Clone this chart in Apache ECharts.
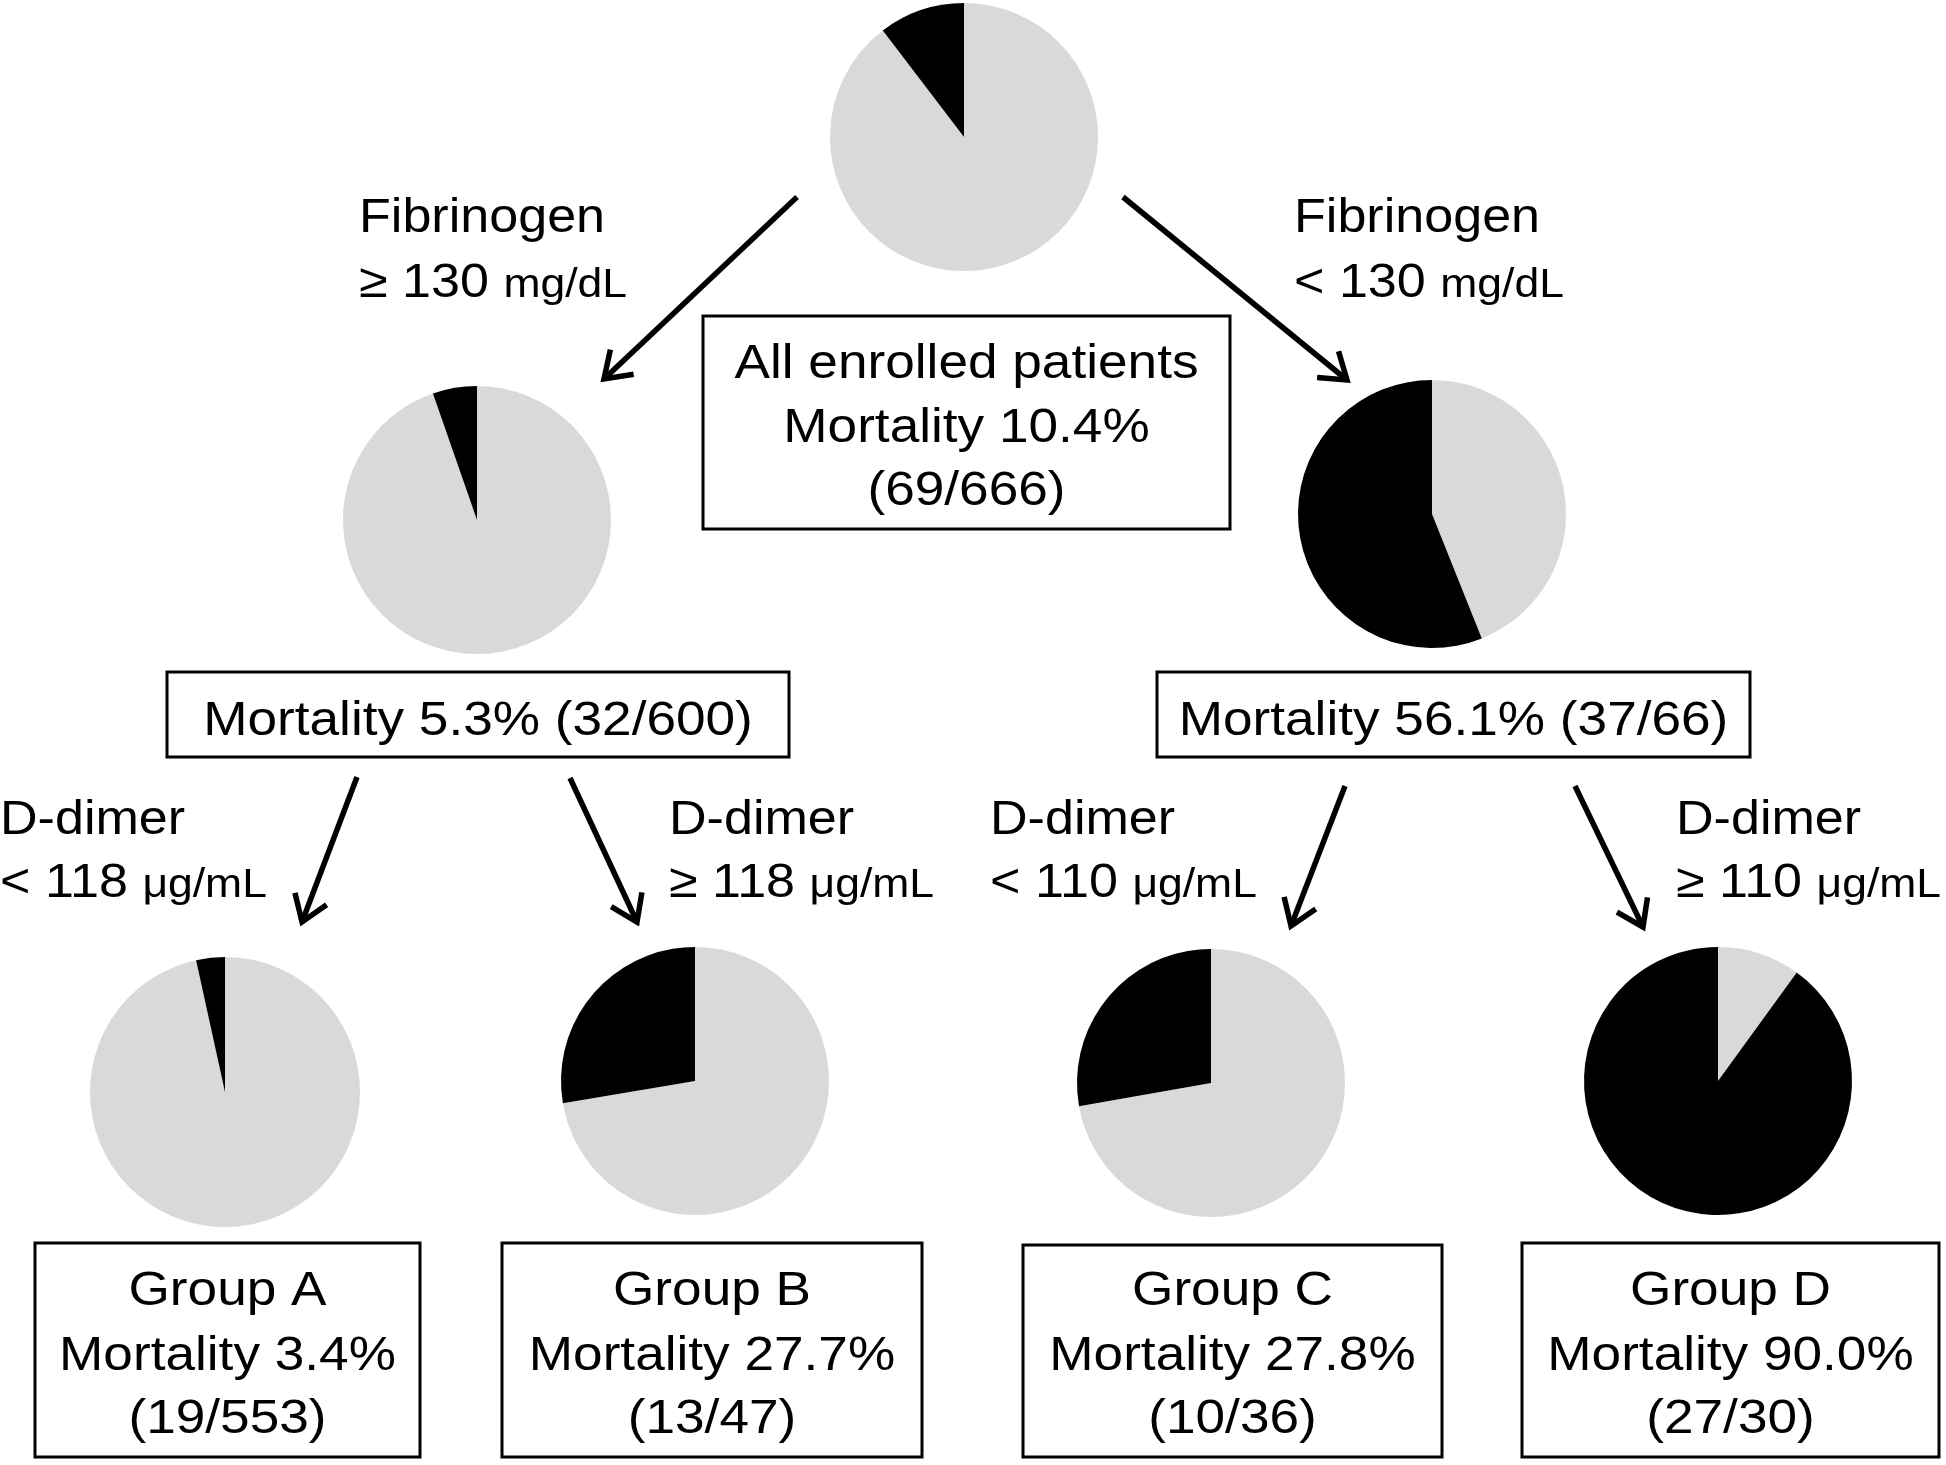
<!DOCTYPE html>
<html>
<head>
<meta charset="utf-8">
<script src="https://cdn.jsdelivr.net/npm/echarts@6/dist/echarts.min.js"></script>
<style>
html,body{margin:0;padding:0;background:#fff;}
#chart{width:1946px;height:1465px;}
</style>
</head>
<body>
<div id="chart"></div>
<script>
// ---- data ----
const groupNames = ['All enrolled patients', 'Fibrinogen ≥ 130', 'Fibrinogen < 130', 'Group A', 'Group B', 'Group C', 'Group D'];
const deaths = [69, 32, 37, 19, 13, 10, 27];
const totals = [666, 600, 66, 553, 47, 36, 30];
const mortality = ['10.4', '5.3', '56.1', '3.4', '27.7', '27.8', '90.0'];
const splitVars = ['Fibrinogen', 'Fibrinogen', 'D-dimer', 'D-dimer', 'D-dimer', 'D-dimer'];
const splitOps = ['≥', '<', '<', '≥', '<', '≥'];
const splitValues = ['130', '130', '118', '118', '110', '110'];
const splitUnits = ['mg/dL', 'mg/dL', 'μg/mL', 'μg/mL', 'μg/mL', 'μg/mL'];

// ---- layout ----
const pieCenters = [[964, 137], [477, 520], [1432, 514], [225, 1092], [695, 1081], [1211, 1083], [1718, 1081]];
const pieRadius = [134, 134, 134, 135, 134, 134, 134];
const GRAY = '#d9d9d9', BLACK = '#000000';
const FONT = "'Liberation Sans', Arial, Helvetica, sans-serif";
const SX = 1.085;
const FS = 49, LS = 48, US = 41;

const measureCtx = document.createElement('canvas').getContext('2d');
function textWidth(s, size) {
  measureCtx.font = size + 'px ' + FONT;
  return measureCtx.measureText(s).width * SX;
}

const chart = echarts.init(document.getElementById('chart'), null, {renderer: 'canvas'});

const series = groupNames.map((name, i) => ({
  type: 'pie',
  name: name,
  center: pieCenters[i],
  radius: pieRadius[i],
  startAngle: 90,
  clockwise: true,
  silent: true,
  animation: false,
  label: {show: false},
  labelLine: {show: false},
  emphasis: {disabled: true},
  itemStyle: {borderWidth: 0},
  data: [
    {name: 'Survived', value: totals[i] - deaths[i], itemStyle: {color: GRAY}},
    {name: 'Died', value: deaths[i], itemStyle: {color: BLACK}}
  ]
}));

function txt(x, y, s, size, align) {
  return {
    type: 'text', x: x, y: y, scaleX: SX, silent: true, z: 10,
    style: {
      text: s, fontSize: size, fontFamily: FONT, fill: '#000',
      align: align, verticalAlign: 'middle',
      textAlign: align, textVerticalAlign: 'middle'
    }
  };
}
function box(x1, y1, x2, y2) {
  return {type: 'rect', silent: true, z: 5,
    shape: {x: x1, y: y1, width: x2 - x1, height: y2 - y1},
    style: {fill: '#fff', stroke: '#000', lineWidth: 3}};
}
function arrow(x1, y1, x2, y2) {
  const ang = Math.atan2(y2 - y1, x2 - x1);
  const L = 30, a = 0.6;
  const p1 = [x2 - L * Math.cos(ang - a), y2 - L * Math.sin(ang - a)];
  const p2 = [x2 - L * Math.cos(ang + a), y2 - L * Math.sin(ang + a)];
  return [
    {type: 'polyline', silent: true, z: 6, shape: {points: [[x1, y1], [x2, y2]]},
      style: {stroke: '#000', lineWidth: 5.5, fill: null}},
    {type: 'polyline', silent: true, z: 6, shape: {points: [p1, [x2, y2], p2]},
      style: {stroke: '#000', lineWidth: 5.5, fill: null, lineJoin: 'miter'}}
  ];
}

const els = [];

// boxes
const boxes = [
  [703, 316, 1230, 529],
  [167, 672, 789, 757],
  [1157, 672, 1750, 757],
  [35, 1243, 420, 1457],
  [502, 1243, 922, 1457],
  [1023, 1245, 1442, 1457],
  [1522, 1243, 1939, 1457]
];
boxes.forEach(b => els.push(box(b[0], b[1], b[2], b[3])));

// box texts
const bc = b => (b[0] + b[2]) / 2;
els.push(txt(bc(boxes[0]), 364, groupNames[0], FS, 'center'));
els.push(txt(bc(boxes[0]), 428, 'Mortality ' + mortality[0] + '%', FS, 'center'));
els.push(txt(bc(boxes[0]), 491, '(' + deaths[0] + '/' + totals[0] + ')', FS, 'center'));
for (let i = 1; i <= 2; i++) {
  els.push(txt(bc(boxes[i]), 721, 'Mortality ' + mortality[i] + '% (' + deaths[i] + '/' + totals[i] + ')', FS, 'center'));
}
for (let i = 3; i <= 6; i++) {
  els.push(txt(bc(boxes[i]), 1291, groupNames[i], FS, 'center'));
  els.push(txt(bc(boxes[i]), 1356, 'Mortality ' + mortality[i] + '%', FS, 'center'));
  els.push(txt(bc(boxes[i]), 1419, '(' + deaths[i] + '/' + totals[i] + ')', FS, 'center'));
}

// split labels: [x of text, y line1, y line2]
const labelPos = [
  [359, 219, 284],
  [1294, 219, 284],
  [0, 821, 884],
  [669, 821, 884],
  [990, 821, 884],
  [1676, 821, 884]
];
labelPos.forEach((p, i) => {
  const first = splitOps[i] + ' ' + splitValues[i];
  els.push(txt(p[0], p[1], splitVars[i], LS, 'left'));
  els.push(txt(p[0], p[2], first, LS, 'left'));
  els.push(txt(p[0] + textWidth(first + ' ', LS), p[2] + 2, splitUnits[i], US, 'left'));
});

// arrows
[
  [797, 197, 604, 379],
  [1123, 197, 1347, 380],
  [357, 777, 302, 922],
  [570, 778, 637, 922],
  [1345, 786, 1291, 926],
  [1575, 786, 1643, 927]
].forEach(a => arrow(a[0], a[1], a[2], a[3]).forEach(e => els.push(e)));

chart.setOption({
  backgroundColor: '#ffffff',
  animation: false,
  series: series,
  graphic: {elements: els}
});
</script>
</body>
</html>
